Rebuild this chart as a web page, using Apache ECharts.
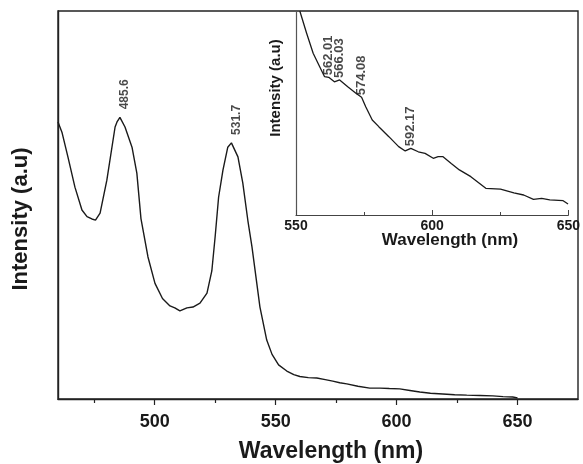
<!DOCTYPE html>
<html>
<head>
<meta charset="utf-8">
<script src="https://cdn.jsdelivr.net/npm/echarts@6/dist/echarts.min.js"></script>
<style>
  html, body { margin: 0; padding: 0; background: #fff; }
  #chart { width: 583px; height: 464px; }
</style>
</head>
<body>
<div id="chart"></div>
<script>
// Full emission spectrum (wavelength in nm, intensity in arbitrary units)
var mainWavelength = [460.0, 461.7, 464.1, 467.0, 469.9, 472.0, 474.0, 475.5, 477.4, 480.2,
  483.6, 484.4, 485.6, 487.7, 490.6, 492.6, 494.3, 497.2, 500.1, 503.2,
  506.3, 508.3, 510.4, 513.3, 515.8, 518.7, 521.6, 523.6, 525.0, 526.4,
  528.2, 530.2, 531.7, 534.4, 536.4, 538.5, 540.2, 543.5, 546.3, 548.5,
  551.2, 554.6, 557.5, 560.0, 563.5, 567.0, 570.5, 573.6, 576.5, 579.4,
  584.0, 588.9, 593.1, 597.0, 601.3, 605.5, 609.6, 614.0, 619.1, 624.0,
  629.0, 634.5, 639.8, 644.0, 648.0, 650.0];
var mainIntensity = [71.4, 68.6, 62.4, 54.6, 48.7, 47.0, 46.4, 46.1, 47.9, 56.4,
  70.1, 71.4, 72.6, 70.1, 64.9, 58.2, 46.5, 36.6, 29.8, 25.9,
  24.0, 23.5, 22.7, 23.5, 23.7, 24.7, 27.3, 33.0, 42.0, 52.0,
  59.0, 64.9, 66.0, 62.4, 55.7, 46.0, 39.2, 23.7, 15.2, 11.5,
  8.8, 7.2, 6.3, 5.8, 5.5, 5.4, 5.0, 4.6, 4.2, 3.9,
  3.3, 2.8, 2.8, 2.7, 2.6, 2.2, 1.8, 1.5, 1.3, 1.1,
  1.0, 0.9, 0.8, 0.6, 0.5, 0.3];
var mainPeaks = ['485.6', '531.7'];

// Enlarged 550-650 nm region
var insetWavelength = [551.4, 553.9, 556.3, 558.7, 560.5, 562.01, 564.1, 566.03, 569.0, 572.0,
  574.08, 575.6, 578.0, 580.4, 584.1, 587.7, 590.1, 592.17, 594.9, 597.4,
  600.4, 602.2, 604.0, 607.0, 610.0, 614.2, 619.7, 625.1, 630.0, 633.6,
  637.2, 640.2, 643.2, 648.1, 649.9];
var insetIntensity = [100.0, 89.1, 79.3, 72.7, 67.8, 67.5, 65.3, 66.2, 62.9, 59.7,
  57.7, 53.1, 46.6, 43.3, 38.4, 33.5, 31.4, 32.7, 31.0, 30.2,
  27.8, 28.6, 28.6, 25.3, 22.1, 18.8, 13.1, 12.7, 10.9, 9.8,
  7.7, 8.2, 7.4, 7.0, 5.4];
var insetPeaks = ['562.01', '566.03', '574.08', '592.17'];

// Axis tick values
var mainMajorTicks = [500, 550, 600, 650];
var mainMinorTicks = [475, 525, 575, 625];

var FONT = '"Liberation Sans", Arial, sans-serif';
var INK = '#1a1a1a';

// Points of a curve that carry a peak label: [wavelength, intensity, text]
function peakPoints(xs, ys, peaks) {
  var out = [];
  peaks.forEach(function (p) {
    var i = xs.indexOf(parseFloat(p));
    if (i >= 0) out.push([xs[i], ys[i], p]);
  });
  return out;
}

function pairs(xs, ys) {
  return xs.map(function (x, i) { return [x, ys[i]]; });
}

// Vertical value label, reading upwards from just above the peak
function peakLabel(extra) {
  return Object.assign({
    show: true,
    rotate: 90,
    align: 'left',
    verticalAlign: 'middle',
    fontFamily: FONT,
    fontWeight: 'bold',
    fontSize: 12,
    color: INK,
    formatter: function (p) { return p.value[2]; }
  }, extra);
}

var chart = echarts.init(document.getElementById('chart'), null, { renderer: 'canvas' });

chart.setOption({
  backgroundColor: '#ffffff',
  animation: false,
  grid: [
    { left: 58, right: 5, top: 11, bottom: 65, show: true, borderColor: '#222', borderWidth: 1.4, backgroundColor: 'transparent' },
    { left: 296, right: 11, top: 11, bottom: 249 }
  ],
  xAxis: [
    {
      gridIndex: 0, type: 'value', min: 460, max: 675, position: 'bottom',
      axisLine: { show: true, lineStyle: { color: '#222', width: 1.4 } },
      axisTick: { show: true, length: 6, lineStyle: { color: '#222', width: 1.2 }, customValues: mainMajorTicks },
      axisLabel: { show: true, customValues: mainMajorTicks, fontFamily: FONT, fontWeight: 'bold', fontSize: 18, color: INK, margin: 14 },
      splitLine: { show: false }
    },
    {
      gridIndex: 0, type: 'value', min: 460, max: 675, position: 'bottom',
      axisLine: { show: false },
      axisTick: { show: true, length: 4, lineStyle: { color: '#222', width: 1.2 }, customValues: mainMinorTicks },
      axisLabel: { show: false },
      splitLine: { show: false }
    },
    {
      gridIndex: 1, type: 'value', min: 550, max: 650, interval: 50,
      axisLine: { show: true, lineStyle: { color: '#444', width: 1.2 } },
      axisTick: { show: true, inside: true, length: 5, lineStyle: { color: '#444', width: 1 } },
      minorTick: { show: true, splitNumber: 2, length: 3, lineStyle: { color: '#444', width: 1 } },
      axisLabel: { fontFamily: FONT, fontWeight: 'bold', fontSize: 14, color: INK, margin: 4 },
      splitLine: { show: false }
    }
  ],
  yAxis: [
    {
      gridIndex: 0, type: 'value', min: 0, max: 100,
      axisLine: { show: true, lineStyle: { color: '#222', width: 1.4 } },
      axisTick: { show: false }, axisLabel: { show: false }, splitLine: { show: false }
    },
    {
      gridIndex: 1, type: 'value', min: 0, max: 100,
      axisLine: { show: true, lineStyle: { color: '#555', width: 1.2 } },
      axisTick: { show: false }, axisLabel: { show: false }, splitLine: { show: false }
    }
  ],
  series: [
    {
      type: 'line', xAxisIndex: 0, yAxisIndex: 0,
      data: pairs(mainWavelength, mainIntensity),
      showSymbol: false, symbol: 'none', smooth: false,
      lineStyle: { color: '#1a1a1a', width: 1.4 }
    },
    {
      type: 'scatter', xAxisIndex: 0, yAxisIndex: 0,
      data: peakPoints(mainWavelength, mainIntensity, mainPeaks),
      symbolSize: 2, itemStyle: { color: 'rgba(0,0,0,0)' },
      label: peakLabel({ position: [6, -7] }),
      labelLayout: { hideOverlap: false }
    },
    {
      type: 'line', xAxisIndex: 2, yAxisIndex: 1,
      data: pairs(insetWavelength, insetIntensity),
      showSymbol: false, symbol: 'none', smooth: false, clip: true,
      lineStyle: { color: '#1a1a1a', width: 1.3 }
    },
    {
      type: 'scatter', xAxisIndex: 2, yAxisIndex: 1,
      data: peakPoints(insetWavelength, insetIntensity, insetPeaks),
      symbolSize: 2, itemStyle: { color: 'rgba(0,0,0,0)' },
      label: peakLabel({ position: [1, -1], fontSize: 13 }),
      labelLayout: { hideOverlap: false }
    }
  ],
  graphic: [
    { type: 'text', x: 21, y: 219, rotation: Math.PI / 2,
      style: { text: 'Intensity (a.u)', font: 'bold 22px ' + FONT, fill: INK, align: 'center', verticalAlign: 'middle' } },
    { type: 'text', x: 331, y: 452,
      style: { text: 'Wavelength (nm)', font: 'bold 23px ' + FONT, fill: INK, align: 'center', verticalAlign: 'middle' } },
    { type: 'text', x: 276, y: 88, rotation: Math.PI / 2,
      style: { text: 'Intensity (a.u)', font: 'bold 15px ' + FONT, fill: INK, align: 'center', verticalAlign: 'middle' } },
    { type: 'text', x: 450, y: 240,
      style: { text: 'Wavelength (nm)', font: 'bold 17px ' + FONT, fill: INK, align: 'center', verticalAlign: 'middle' } }
  ]
});
</script>
</body>
</html>
